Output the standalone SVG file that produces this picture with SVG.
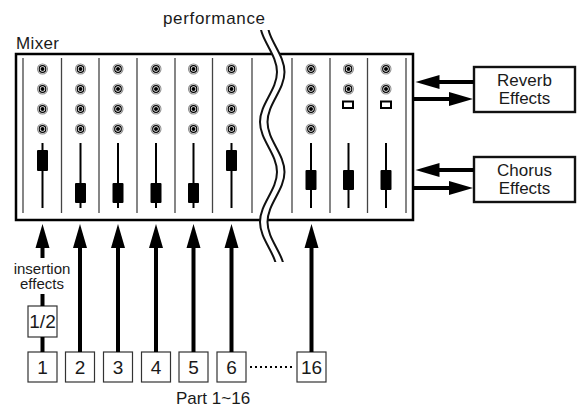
<svg xmlns="http://www.w3.org/2000/svg" xmlns:xlink="http://www.w3.org/1999/xlink" width="580" height="411" viewBox="0 0 580 411">
<style>
text{font-family:"Liberation Sans",Arial,sans-serif;fill:#1a1a1a}
.lbl{font-size:17px}
.blbl{font-size:17px;text-anchor:middle}
.num{font-size:19px;text-anchor:middle}
.small{font-size:15px;text-anchor:middle}
.box{fill:#fff;stroke:#111;stroke-width:2.4}
.pbox{fill:#fff;stroke:#333;stroke-width:1.2}
.div{stroke:#444;stroke-width:1.3}
.slot{stroke:#000;stroke-width:2}
.fk{fill:#000}
.conn{stroke:#000;stroke-width:4;fill:none}
</style>
<defs>
<marker id="ah" markerUnits="userSpaceOnUse" markerWidth="26" markerHeight="16" viewBox="0 -8 26 16" refX="1" refY="0" orient="auto">
<path d="M0,-7 L24,0 L0,7 z" fill="#000"/>
</marker>
<g id="knob">
<circle r="5.5" fill="#8a8a8a"/>
<circle r="4.5" fill="#fff"/>
<circle r="3.9" fill="#000"/>
<circle r="2.7" fill="#fff"/>
<circle r="2" fill="#000"/>
</g>
<clipPath id="brk"><rect x="240" y="30" width="60" height="232"/></clipPath>
</defs>

<g id="labels">
<text class="lbl" x="163" y="24" textLength="102">performance</text>
<text class="lbl" x="16" y="48.5" textLength="43">Mixer</text>
</g>

<g id="mixer">
<rect x="16" y="54" width="397" height="166" fill="#fff" stroke="#000" stroke-width="2.5"/>
<g class="div">
<line x1="23" y1="58" x2="23" y2="213"/>
<line x1="61.5" y1="58" x2="61.5" y2="213"/>
<line x1="99" y1="58" x2="99" y2="213"/>
<line x1="137" y1="58" x2="137" y2="213"/>
<line x1="175" y1="58" x2="175" y2="213"/>
<line x1="212.5" y1="58" x2="212.5" y2="213"/>
<line x1="252" y1="58" x2="252" y2="213"/>
<line x1="292" y1="58" x2="292" y2="213"/>
<line x1="330" y1="58" x2="330" y2="213"/>
<line x1="367.5" y1="58" x2="367.5" y2="213"/>
<line x1="406" y1="58" x2="406" y2="213"/>
</g>
<g id="knobs">
<use xlink:href="#knob" x="42.5" y="69"/><use xlink:href="#knob" x="42.5" y="89"/><use xlink:href="#knob" x="42.5" y="109"/><use xlink:href="#knob" x="42.5" y="129"/>
<use xlink:href="#knob" x="80.5" y="69"/><use xlink:href="#knob" x="80.5" y="89"/><use xlink:href="#knob" x="80.5" y="109"/><use xlink:href="#knob" x="80.5" y="129"/>
<use xlink:href="#knob" x="118" y="69"/><use xlink:href="#knob" x="118" y="89"/><use xlink:href="#knob" x="118" y="109"/><use xlink:href="#knob" x="118" y="129"/>
<use xlink:href="#knob" x="156" y="69"/><use xlink:href="#knob" x="156" y="89"/><use xlink:href="#knob" x="156" y="109"/><use xlink:href="#knob" x="156" y="129"/>
<use xlink:href="#knob" x="193.5" y="69"/><use xlink:href="#knob" x="193.5" y="89"/><use xlink:href="#knob" x="193.5" y="109"/><use xlink:href="#knob" x="193.5" y="129"/>
<use xlink:href="#knob" x="231.5" y="69"/><use xlink:href="#knob" x="231.5" y="89"/><use xlink:href="#knob" x="231.5" y="109"/><use xlink:href="#knob" x="231.5" y="129"/>
<use xlink:href="#knob" x="311" y="69"/><use xlink:href="#knob" x="311" y="89"/><use xlink:href="#knob" x="311" y="109"/><use xlink:href="#knob" x="311" y="129"/>
<use xlink:href="#knob" x="348.5" y="69"/><use xlink:href="#knob" x="348.5" y="89"/>
<use xlink:href="#knob" x="386" y="69"/><use xlink:href="#knob" x="386" y="89"/>
<rect x="343" y="101.5" width="10" height="6.5" fill="#fff" stroke="#000" stroke-width="2"/>
<rect x="381" y="101.5" width="10" height="6.5" fill="#fff" stroke="#000" stroke-width="2"/>
</g>
<g id="faders">
<line class="slot" x1="42.5" y1="143" x2="42.5" y2="208"/>
<line class="slot" x1="80.5" y1="143" x2="80.5" y2="208"/>
<line class="slot" x1="118" y1="143" x2="118" y2="208"/>
<line class="slot" x1="156" y1="143" x2="156" y2="208"/>
<line class="slot" x1="193.5" y1="143" x2="193.5" y2="208"/>
<line class="slot" x1="231.5" y1="143" x2="231.5" y2="208"/>
<line class="slot" x1="311" y1="143" x2="311" y2="208"/>
<line class="slot" x1="348.5" y1="143" x2="348.5" y2="208"/>
<line class="slot" x1="386" y1="143" x2="386" y2="208"/>
<rect class="fk" x="37" y="150" width="11" height="21" rx="1"/>
<rect class="fk" x="75" y="183" width="11" height="20" rx="1"/>
<rect class="fk" x="112.5" y="183" width="11" height="20" rx="1"/>
<rect class="fk" x="150.5" y="183" width="11" height="20" rx="1"/>
<rect class="fk" x="188" y="183" width="11" height="20" rx="1"/>
<rect class="fk" x="226" y="150" width="11" height="21" rx="1"/>
<rect class="fk" x="305.5" y="170" width="11" height="20" rx="1"/>
<rect class="fk" x="343" y="170" width="11" height="20" rx="1"/>
<rect class="fk" x="380.5" y="170" width="11" height="20" rx="1"/>
</g>
</g>

<g id="break" clip-path="url(#brk)" fill="none">
<path d="M263.75,22 C263.75,40.2 280.75,53.8 280.75,72 C280.75,90.2 263.75,103.8 263.75,122 C263.75,140.2 280.75,153.8 280.75,172 C280.75,190.2 263.75,203.8 263.75,222 C263.75,240.2 280.75,253.8 280.75,272" stroke="#fff" stroke-width="7"/>
<path d="M260,22 C260,40.2 277,53.8 277,72 C277,90.2 260,103.8 260,122 C260,140.2 277,153.8 277,172 C277,190.2 260,203.8 260,222 C260,240.2 277,253.8 277,272" stroke="#111" stroke-width="2"/>
<path d="M267.5,22 C267.5,40.2 284.5,53.8 284.5,72 C284.5,90.2 267.5,103.8 267.5,122 C267.5,140.2 284.5,153.8 284.5,172 C284.5,190.2 267.5,203.8 267.5,222 C267.5,240.2 284.5,253.8 284.5,272" stroke="#111" stroke-width="2"/>
</g>

<g id="reverb">
<rect class="box" x="474" y="67" width="101" height="45"/>
<text class="blbl" x="524.5" y="85.5">Reverb</text>
<text class="blbl" x="524.5" y="103.5">Effects</text>
</g>
<g id="chorus">
<rect class="box" x="474" y="157" width="101" height="45"/>
<text class="blbl" x="524.5" y="175.5">Chorus</text>
<text class="blbl" x="524.5" y="193.5">Effects</text>
</g>

<g id="insertion">
<rect class="pbox" x="28" y="306" width="29" height="31"/>
<text class="num" x="42.5" y="328">1/2</text>
<text class="small" x="42" y="273.5">insertion</text>
<text class="small" x="42" y="289">effects</text>
</g>

<g id="parts">
<rect class="pbox" x="28" y="352" width="29" height="30"/><text class="num" x="42.5" y="374">1</text>
<rect class="pbox" x="65.5" y="352" width="29" height="30"/><text class="num" x="80" y="374">2</text>
<rect class="pbox" x="103.5" y="352" width="29" height="30"/><text class="num" x="118" y="374">3</text>
<rect class="pbox" x="141.5" y="352" width="29" height="30"/><text class="num" x="156" y="374">4</text>
<rect class="pbox" x="179" y="352" width="29" height="30"/><text class="num" x="193.5" y="374">5</text>
<rect class="pbox" x="217" y="352" width="29" height="30"/><text class="num" x="231.5" y="374">6</text>
<rect class="pbox" x="297" y="352" width="29" height="30"/><text class="num" x="311.5" y="374">16</text>
<text class="lbl" x="213" y="404" text-anchor="middle" font-size="18">Part 1~16</text>
</g>

<g id="connectors">
<line class="conn" x1="42.5" y1="352" x2="42.5" y2="337"/>
<line class="conn" x1="42.5" y1="306" x2="42.5" y2="294"/>
<line class="conn" x1="42.5" y1="258" x2="42.5" y2="247" marker-end="url(#ah)"/>
<line class="conn" x1="80" y1="352" x2="80" y2="247" marker-end="url(#ah)"/>
<line class="conn" x1="118" y1="352" x2="118" y2="247" marker-end="url(#ah)"/>
<line class="conn" x1="156" y1="352" x2="156" y2="247" marker-end="url(#ah)"/>
<line class="conn" x1="193.5" y1="352" x2="193.5" y2="247" marker-end="url(#ah)"/>
<line class="conn" x1="231.5" y1="352" x2="231.5" y2="247" marker-end="url(#ah)"/>
<line class="conn" x1="311.5" y1="352" x2="311.5" y2="247" marker-end="url(#ah)"/>
<line x1="250" y1="367" x2="292" y2="367" stroke="#000" stroke-width="2" stroke-dasharray="2 3"/>
<line class="conn" x1="474" y1="82" x2="438.5" y2="82" marker-end="url(#ah)"/>
<line class="conn" x1="414" y1="99" x2="450" y2="99" marker-end="url(#ah)"/>
<line class="conn" x1="474" y1="170" x2="438.5" y2="170" marker-end="url(#ah)"/>
<line class="conn" x1="414" y1="188" x2="450" y2="188" marker-end="url(#ah)"/>
</g>
</svg>
